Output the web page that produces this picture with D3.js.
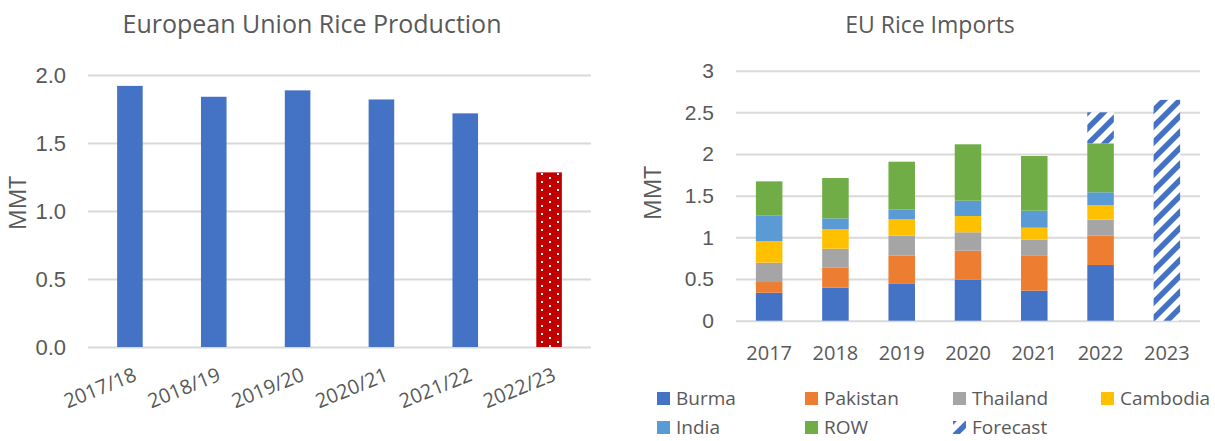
<!DOCTYPE html>
<html>
<head>
<meta charset="utf-8">
<script src="https://cdn.jsdelivr.net/npm/d3@7"></script>
<style>
  body { margin: 0; background: #fff; }
  svg { display: block; font-family: "Open Sans", sans-serif; }
  text { fill: #595959; }
</style>
</head>
<body>
<svg id="chart" width="1215" height="441"></svg>
<script>
// EU rice production, MMT
const prodYears = ['2017/18', '2018/19', '2019/20', '2020/21', '2021/22', '2022/23'];
const prodValues = [1.92, 1.84, 1.887, 1.82, 1.718, 1.284];
const prodTicks = [0, 0.5, 1.0, 1.5, 2.0];

// EU rice imports by origin, MMT
const importYears = ['2017', '2018', '2019', '2020', '2021', '2022', '2023'];
const burma = [0.336, 0.396, 0.448, 0.492, 0.36, 0.668, 0];
const pakistan = [0.128, 0.244, 0.332, 0.348, 0.425, 0.352, 0];
const thailand = [0.232, 0.224, 0.24, 0.221, 0.187, 0.192, 0];
const cambodia = [0.26, 0.236, 0.196, 0.195, 0.144, 0.176, 0];
const india = [0.309, 0.128, 0.12, 0.184, 0.204, 0.153, 0];
const row = [0.407, 0.484, 0.572, 0.677, 0.656, 0.588, 0];
const forecast = [0, 0, 0, 0, 0, 0.371, 2.65];
const importTicks = [0, 0.5, 1, 1.5, 2, 2.5, 3];

const seriesNames = ['Burma', 'Pakistan', 'Thailand', 'Cambodia', 'India', 'ROW', 'Forecast'];
const seriesColors = ['#4472C4', '#ED7D31', '#A5A5A5', '#FFC000', '#5B9BD5', '#70AD47', 'url(#hatch)'];

const svg = d3.select('#chart');
const defs = svg.append('defs');

// red bar with white dots
const dots = defs.append('pattern')
  .attr('id', 'dots')
  .attr('patternUnits', 'userSpaceOnUse')
  .attr('width', 16).attr('height', 8);
dots.append('rect').attr('width', 16).attr('height', 8).attr('fill', '#C00000');
dots.append('rect').attr('x', 5).attr('y', 1).attr('width', 2).attr('height', 2).attr('fill', '#fff');
dots.append('rect').attr('x', 13).attr('y', 5).attr('width', 2).attr('height', 2).attr('fill', '#fff');

// blue upward diagonal hatch for forecast
const hatch = defs.append('pattern')
  .attr('id', 'hatch')
  .attr('patternUnits', 'userSpaceOnUse')
  .attr('width', 16).attr('height', 16);
hatch.append('rect').attr('width', 16).attr('height', 16).attr('fill', '#fff');
hatch.append('path')
  .attr('d', 'M-4,4 L4,-4 M0,16 L16,0 M12,20 L20,12')
  .attr('stroke', '#4472C4')
  .attr('stroke-width', 5.5);

function gridAxis(g, y, x0, x1, fmt, ticks, size) {
  const axis = d3.axisLeft(y)
    .tickValues(ticks)
    .tickSize(-(x1 - x0))
    .tickFormat(fmt);
  g.attr('transform', `translate(${x0},0)`).call(axis);
  g.select('.domain').remove();
  g.selectAll('.tick line').attr('stroke', '#D9D9D9').attr('stroke-width', 2);
  g.selectAll('.tick text').attr('font-size', size).attr('fill', '#595959')
    .attr('x', -22);
}

// ---------- left chart: production ----------
{
  const x0 = 88;
  const x1 = 591;
  const x = d3.scaleBand().domain(prodYears).range([x0, x1]).paddingInner(0.695).paddingOuter(0.3475);
  const y = d3.scaleLinear().domain([0, 2]).range([347, 75]);

  svg.append('g').call(g => gridAxis(g, y, x0, x1, d3.format('.1f'), prodTicks, 22));

  svg.append('g').selectAll('rect')
    .data(prodValues)
    .join('rect')
    .attr('x', (d, i) => x(prodYears[i]))
    .attr('y', d => y(d))
    .attr('width', x.bandwidth())
    .attr('height', d => y(0) - y(d))
    .attr('fill', (d, i) => (i === prodValues.length - 1 ? 'url(#dots)' : '#4472C4'));

  svg.append('g').selectAll('text')
    .data(prodYears)
    .join('text')
    .attr('text-anchor', 'end')
    .attr('font-size', 20)
    .attr('transform', d => `translate(${x(d) + x.bandwidth() / 2 + 8},${y(0) + 33}) rotate(-22)`)
    .text(d => d);

  svg.append('text')
    .attr('text-anchor', 'middle')
    .attr('font-size', 25)
    .attr('x', 312).attr('y', 33)
    .text('European Union Rice Production');

  svg.append('text')
    .attr('text-anchor', 'middle')
    .attr('font-size', 23)
    .attr('transform', 'translate(26,203) rotate(-90)')
    .text('MMT');
}

// ---------- right chart: imports ----------
{
  const x0 = 736;
  const x1 = 1200;
  const x = d3.scaleBand().domain(importYears).range([x0, x1]).paddingInner(0.6).paddingOuter(0.3);
  const y = d3.scaleLinear().domain([0, 3]).range([320.7, 70.7]);

  svg.append('g').call(g => gridAxis(g, y, x0, x1, d => String(d), importTicks, 21));

  const table = importYears.map((yr, i) => ({
    year: yr,
    Burma: burma[i],
    Pakistan: pakistan[i],
    Thailand: thailand[i],
    Cambodia: cambodia[i],
    India: india[i],
    ROW: row[i],
    Forecast: forecast[i],
  }));
  const stacked = d3.stack().keys(seriesNames)(table);

  svg.append('g').selectAll('g')
    .data(stacked)
    .join('g')
    .attr('fill', (d, i) => seriesColors[i])
    .selectAll('rect')
    .data(d => d.filter(p => p[1] - p[0] > 0))
    .join('rect')
    .attr('x', p => x(p.data.year))
    .attr('y', p => y(p[1]))
    .attr('width', x.bandwidth())
    .attr('height', p => y(p[0]) - y(p[1]));

  svg.append('g').selectAll('text')
    .data(importYears)
    .join('text')
    .attr('text-anchor', 'middle')
    .attr('font-size', 20)
    .attr('x', d => x(d) + x.bandwidth() / 2)
    .attr('y', 360)
    .text(d => d);

  svg.append('text')
    .attr('text-anchor', 'middle')
    .attr('font-size', 23)
    .attr('x', 930).attr('y', 33)
    .text('EU Rice Imports');

  svg.append('text')
    .attr('text-anchor', 'middle')
    .attr('font-size', 23)
    .attr('transform', 'translate(661,193) rotate(-90)')
    .text('MMT');

  // legend, four per row
  const legend = svg.append('g').selectAll('g')
    .data(seriesNames)
    .join('g')
    .attr('transform', (d, i) => `translate(${657 + (i % 4) * 148}${i < 4 ? ',392' : ',421'})`);
  legend.append('rect')
    .attr('width', 13).attr('height', 13)
    .attr('fill', (d, i) => seriesColors[i]);
  legend.append('text')
    .attr('x', 19).attr('y', 13)
    .attr('font-size', 19)
    .text(d => d);
}
</script>
</body>
</html>
